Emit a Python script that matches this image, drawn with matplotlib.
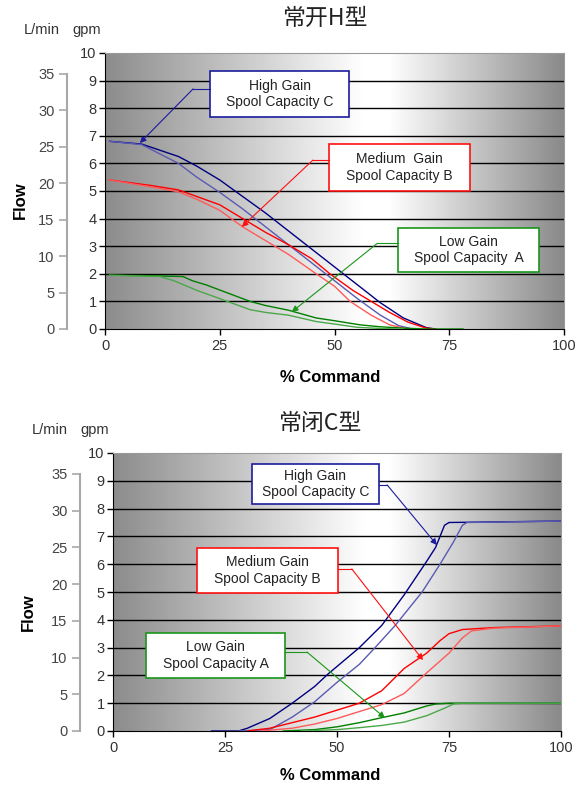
import numpy as np
import matplotlib.pyplot as plt
from matplotlib.colors import LinearSegmentedColormap
from matplotlib.patches import Rectangle

LPM_PER_GPM = 3.785

# ---- normally open (H) : % command -> flow (gpm) ----
h_c1_x = [1, 8, 16, 20, 25, 30, 35, 40, 45, 50, 55, 60, 65, 70, 72]
h_c1_y = [6.8, 6.7, 6.25, 5.9, 5.4, 4.8, 4.2, 3.55, 2.9, 2.25, 1.6, 0.95, 0.4, 0.05, 0]
h_c2_x = [1, 8, 16, 20, 25, 30, 35, 40, 45, 50, 55, 60, 64, 67]
h_c2_y = [6.8, 6.68, 6.0, 5.5, 4.95, 4.35, 3.7, 3.05, 2.4, 1.75, 1.1, 0.5, 0.12, 0]
h_b1_x = [1, 10, 16, 20, 25, 30, 35, 40, 45, 49, 54, 58, 62, 66, 70, 72]
h_b1_y = [5.4, 5.2, 5.04, 4.8, 4.5, 4.0, 3.5, 3.05, 2.55, 2.0, 1.4, 1.0, 0.6, 0.25, 0.03, 0]
h_b2_x = [1, 10, 16, 20, 25, 30, 35, 40, 46, 50, 53.4, 58, 62, 66]
h_b2_y = [5.4, 5.15, 4.97, 4.7, 4.3, 3.7, 3.2, 2.7, 2.0, 1.55, 1.0, 0.5, 0.15, 0]
h_a1_x = [1, 10, 17, 19, 22, 26, 31.6, 35, 40, 46, 50, 55.6, 60, 65, 70, 78]
h_a1_y = [1.95, 1.93, 1.9, 1.75, 1.6, 1.35, 1.0, 0.85, 0.68, 0.4, 0.3, 0.15, 0.08, 0.03, 0, 0]
h_a2_x = [1, 12, 15, 20, 25, 31.6, 35, 40, 46, 50, 55, 60, 65]
h_a2_y = [1.95, 1.9, 1.75, 1.4, 1.1, 0.7, 0.6, 0.5, 0.27, 0.18, 0.06, 0.02, 0]

# ---- normally closed (C) ----
c_c1_x = [22, 28, 30, 35, 40, 45, 48, 55, 60, 65, 70, 72, 73, 74, 75, 100]
c_c1_y = [0, 0, 0.1, 0.45, 1.0, 1.6, 2.05, 3.0, 3.8, 4.9, 6.1, 6.6, 7.0, 7.4, 7.5, 7.55]
c_c2_x = [28, 35, 40, 45, 50, 55, 58.5, 63, 69, 73, 76, 78, 79, 100]
c_c2_y = [0, 0.05, 0.5, 1.05, 1.75, 2.4, 3.0, 3.8, 5.0, 6.0, 6.8, 7.4, 7.5, 7.55]
c_b1_x = [30, 35, 40, 45, 50, 55, 60, 65, 70, 73, 75, 78, 85, 100]
c_b1_y = [0, 0.1, 0.3, 0.5, 0.75, 1.0, 1.45, 2.25, 2.8, 3.25, 3.5, 3.65, 3.72, 3.78]
c_b2_x = [33, 40, 45, 50, 55, 60, 65, 70, 75, 78, 80, 85, 100]
c_b2_y = [0, 0.1, 0.25, 0.45, 0.7, 0.95, 1.35, 2.09, 2.8, 3.35, 3.6, 3.7, 3.78]
c_a1_x = [38, 45, 50, 55, 60, 65, 70, 72, 75, 100]
c_a1_y = [0, 0.05, 0.15, 0.3, 0.48, 0.65, 0.9, 0.97, 1.0, 1.0]
c_a2_x = [42, 50, 55, 60, 65, 70, 74, 76, 78, 100]
c_a2_y = [0, 0.05, 0.12, 0.2, 0.32, 0.55, 0.82, 0.97, 1.0, 1.0]

x_ticks = [0, 25, 50, 75, 100]
gpm_ticks = list(range(0, 11))
lpm_ticks = list(range(0, 40, 5))

BLUE, BLUE_L = "#000080", "#5a5ab4"
RED, RED_L = "#ff0000", "#ff5a5a"
GREEN, GREEN_L = "#008000", "#4aa84a"

h_curves = [(h_c1_x, h_c1_y, BLUE), (h_c2_x, h_c2_y, BLUE_L),
            (h_b1_x, h_b1_y, RED), (h_b2_x, h_b2_y, RED_L),
            (h_a1_x, h_a1_y, GREEN), (h_a2_x, h_a2_y, GREEN_L)]
c_curves = [(c_c1_x, c_c1_y, BLUE), (c_c2_x, c_c2_y, BLUE_L),
            (c_b1_x, c_b1_y, RED), (c_b2_x, c_b2_y, RED_L),
            (c_a1_x, c_a1_y, GREEN), (c_a2_x, c_a2_y, GREEN_L)]

# label text, colour, box (x0, y0, x1, y1), leader start, elbow, arrow tip
h_notes = [
    ("High Gain\nSpool Capacity C", "#1c1c9c", (22.9, 7.68, 53.2, 9.35), (22.9, 8.7), (19.2, 8.7), (7.6, 6.74)),
    ("Medium  Gain\nSpool Capacity B", "#ff1010", (48.8, 5.0, 79.5, 6.7), (48.8, 6.12), (45.3, 6.12), (29.8, 3.7)),
    ("Low Gain\nSpool Capacity  A", "#1a961a", (63.8, 2.07, 94.6, 3.66), (63.8, 3.1), (59.3, 3.1), (40.7, 0.62)),
]
c_notes = [
    ("High Gain\nSpool Capacity C", "#1c1c9c", (31.0, 8.17, 59.4, 9.6), (59.4, 8.85), (61.2, 8.85), (72.3, 6.69)),
    ("Medium Gain\nSpool Capacity B", "#ff1010", (18.75, 4.96, 50.2, 6.58), (50.2, 5.83), (53.3, 5.83), (69.2, 2.55)),
    ("Low Gain\nSpool Capacity A", "#1a961a", (7.4, 1.9, 38.4, 3.53), (38.4, 2.84), (43.3, 2.84), (60.7, 0.47)),
]

W, H = 585, 785
plt.rcParams["font.family"] = ["Liberation Sans", "DejaVu Sans"]
fig = plt.figure(figsize=(W / 100, H / 100), dpi=100)

bg = LinearSegmentedColormap.from_list(
    "bg", [(0, "#8c8c8c"), (0.56, "#ffffff"), (0.62, "#ffffff"), (1, "#8a8a8a")])


def px_axes(l, t, r, b):
    return fig.add_axes([l / W, 1 - b / H, (r - l) / W, (b - t) / H])


def panel(ax, curves, notes, lpm_pos):
    ax.imshow(np.linspace(0, 1, 256)[None, :], cmap=bg, extent=[0, 100, 0, 10],
              aspect="auto", zorder=0)
    ax.set_xlim(0, 100)
    ax.set_ylim(0, 10)
    for g in gpm_ticks[1:-1]:
        ax.axhline(g, color="black", lw=1, zorder=1)
    for x, y, c in curves:
        ax.plot(x, y, color=c, lw=1, zorder=3)
    for text, c, (x0, y0, x1, y1), start, elbow, tip in notes:
        ax.add_patch(Rectangle((x0, y0), x1 - x0, y1 - y0, facecolor="white",
                               edgecolor=c, lw=1.2, zorder=4))
        ax.text((x0 + x1) / 2, (y0 + y1) / 2, text, ha="center", va="center",
                fontsize=10, color="#222222", linespacing=1.25, zorder=5)
        ax.plot([start[0], elbow[0]], [start[1], elbow[1]], color=c, lw=0.8, zorder=4)
        ax.annotate("", xy=tip, xytext=elbow, zorder=4,
                    arrowprops=dict(arrowstyle="-|>", color=c, lw=0.8,
                                    mutation_scale=9, shrinkA=0, shrinkB=0))
    ax.set_xticks(x_ticks)
    ax.set_yticks(gpm_ticks)
    ax.tick_params(length=4, width=1, labelsize=10.5, labelcolor="#333333", pad=3)
    ax.tick_params(axis="y", pad=2)
    for s in ("left", "bottom"):
        ax.spines[s].set_color("black")
    for s in ("top", "right"):
        ax.spines[s].set_color("#9a9a9a")
        ax.spines[s].set_linewidth(0.8)

    sec = ax.secondary_yaxis(lpm_pos, functions=(lambda g: g * LPM_PER_GPM,
                                                 lambda q: q / LPM_PER_GPM))
    sec.set_yticks(lpm_ticks)
    sec.spines["left"].set_bounds(0, 35)
    sec.spines["left"].set_color("#a8a8a8")
    sec.spines["left"].set_linewidth(1.5)
    sec.tick_params(length=6, width=1.2, color="#a8a8a8", labelsize=10.5,
                    labelcolor="#444444", pad=3)


ax1 = px_axes(105, 53, 564, 329)
panel(ax1, h_curves, h_notes, -0.083)
ax2 = px_axes(113, 453, 561, 731)
panel(ax2, c_curves, c_notes, -0.074)


def ftxt(x, y, s, **kw):
    fig.text(x / W, 1 - y / H, s, ha="center", va="center", **kw)


cjk = ["Noto Sans CJK SC", "DejaVu Sans"]
ftxt(325, 18, "常开H型", fontsize=16.5, color="#222222", family=cjk)
ftxt(320, 423, "常闭C型", fontsize=16.5, color="#222222", family=cjk)
for dx, dy, fy, cy in [(0, 0, 200, 377), (8, 400, 612, 775)]:
    ftxt(42 + dx, 30 + dy, "L/min", fontsize=10.5, color="#333333")
    ftxt(87 + dx, 30 + dy, "gpm", fontsize=10.5, color="#333333")
    ftxt(20 + dx, fy, "Flow", fontsize=12, fontweight="bold", rotation=90)
    ftxt(330, cy, "% Command", fontsize=12, fontweight="bold")

fig.savefig("out.png", dpi=100)
